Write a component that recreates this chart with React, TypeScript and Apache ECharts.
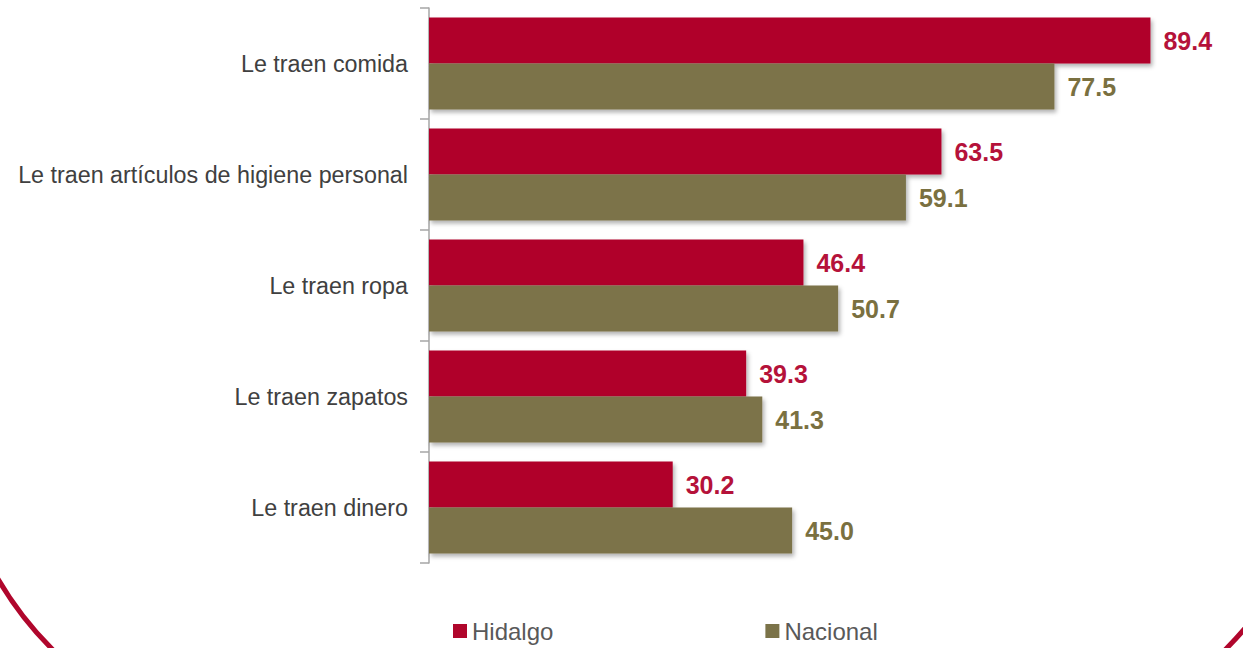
import React, { useEffect, useRef } from "react";
import * as echarts from "echarts";

const categories = [
  "Le traen comida",
  "Le traen artículos de higiene personal",
  "Le traen ropa",
  "Le traen zapatos",
  "Le traen dinero",
];
const hidalgo = [89.4, 63.5, 46.4, 39.3, 30.2];
const nacional = [77.5, 59.1, 50.7, 41.3, 45.0];
const seriesNames = ["Hidalgo", "Nacional"];

const RED = "#B0062C";
const KHAKI = "#7B7349";

export default function App() {
  const ref = useRef<HTMLDivElement>(null);
  useEffect(() => {
    document.body.style.margin = "0";
    const chart = echarts.init(ref.current!, undefined, { renderer: "svg" });
    const shadow = {
      shadowBlur: 4,
      shadowOffsetX: 2,
      shadowOffsetY: 3,
      shadowColor: "rgba(0,0,0,0.3)",
    };
    chart.setOption({
      animation: false,
      textStyle: { fontFamily: "Liberation Sans, Arial, sans-serif" },
      grid: { left: 429, top: 8, width: 807, height: 555 },
      xAxis: { type: "value", min: 0, max: 100, show: false },
      yAxis: {
        type: "category",
        data: categories,
        inverse: true,
        axisLine: { show: true, lineStyle: { color: "#A6A6A6", width: 1.5 } },
        axisTick: { show: true, length: 9, lineStyle: { color: "#A6A6A6", width: 1.5 } },
        axisLabel: { color: "#404040", fontSize: 23.3, margin: 21 },
      },
      legend: {
        left: 448,
        top: 614,
        itemWidth: 14,
        itemHeight: 14,
        itemGap: 212,
        icon: "rect",
        textStyle: { color: "#595959", fontSize: 24 },
        data: seriesNames,
      },
      series: [
        {
          name: seriesNames[0],
          type: "bar",
          data: hidalgo,
          barWidth: 46,
          barGap: "0%",
          itemStyle: { color: RED, ...shadow },
          label: {
            show: true,
            position: "right",
            distance: 13,
            color: "#B5123A",
            fontSize: 25,
            fontWeight: "bold",
            formatter: (p: any) => p.value.toFixed(1),
          },
        },
        {
          name: seriesNames[1],
          type: "bar",
          data: nacional,
          barWidth: 46,
          barGap: "0%",
          itemStyle: { color: KHAKI, ...shadow },
          label: {
            show: true,
            position: "right",
            distance: 13,
            color: "#7A7040",
            fontSize: 25,
            fontWeight: "bold",
            formatter: (p: any) => p.value.toFixed(1),
          },
        },
      ],
      graphic: [
        {
          type: "rect",
          silent: true,
          z: 100,
          shape: { x: -49, y: -400, width: 1376, height: 1150, r: 345 },
          style: { fill: "none", stroke: RED, lineWidth: 5 },
        },
      ],
    });
    return () => chart.dispose();
  }, []);
  return <div ref={ref} style={{ width: 1243, height: 648 }} />;
}
